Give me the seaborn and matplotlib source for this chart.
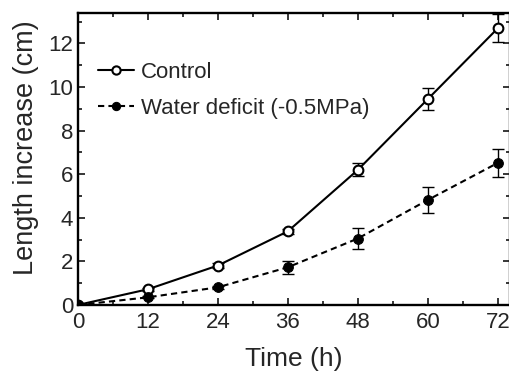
import matplotlib
matplotlib.use("Agg")
import matplotlib.pyplot as plt
from matplotlib.ticker import MultipleLocator
import seaborn as sns
import pandas as pd

time_h = [0, 12, 24, 36, 48, 60, 72]
control = [0.0, 0.72, 1.81, 3.38, 6.2, 9.45, 12.7]
control_err = [0.0, 0.08, 0.1, 0.12, 0.3, 0.5, 0.65]
deficit = [0.0, 0.35, 0.81, 1.73, 3.05, 4.82, 6.52]
deficit_err = [0.0, 0.05, 0.08, 0.3, 0.5, 0.6, 0.65]

sns.set_style("ticks")
plt.rcParams["font.family"] = ["Liberation Sans", "DejaVu Sans"]

df = pd.DataFrame({"time": time_h * 2,
                   "length": control + deficit,
                   "group": ["Control"] * 7 + ["Water deficit (-0.5MPa)"] * 7})

fig = plt.figure(figsize=(5.09, 3.71), dpi=100)
ax = fig.add_axes([0.153, 0.178, 0.848, 0.787])

sns.lineplot(data=df[df.group == "Control"], x="time", y="length", ax=ax,
             color="black", lw=1.5, marker="o", markersize=7,
             markerfacecolor="white", markeredgecolor="black", markeredgewidth=1.5,
             label="Control", zorder=3)
sns.lineplot(data=df[df.group != "Control"], x="time", y="length", ax=ax,
             color="black", lw=1.5, linestyle=(0, (3, 2)), marker="o", markersize=7,
             markerfacecolor="black", markeredgecolor="black",
             label="Water deficit (-0.5MPa)", zorder=3)
ax.errorbar(time_h, control, yerr=control_err, fmt="none", ecolor="black",
            elinewidth=1, capsize=4, capthick=1, zorder=2)
ax.errorbar(time_h, deficit, yerr=deficit_err, fmt="none", ecolor="black",
            elinewidth=1, capsize=4, capthick=1, zorder=2)

ax.set_xlim(0, 74)
ax.set_ylim(0, 13.4)
ax.xaxis.set_major_locator(MultipleLocator(12))
ax.xaxis.set_minor_locator(MultipleLocator(6))
ax.yaxis.set_major_locator(MultipleLocator(2))
ax.yaxis.set_minor_locator(MultipleLocator(1))
ax.tick_params(which="both", direction="in", top=True, right=True, width=1.3,
               labelsize=16)
ax.tick_params(which="major", length=5)
ax.tick_params(which="minor", length=3)
ax.tick_params(axis="x", pad=5)
for s in ax.spines.values():
    s.set_linewidth(1.7)
    s.set_color("black")

ax.set_xlabel("Time (h)", fontsize=19, labelpad=10)
ax.set_ylabel("Length increase (cm)", fontsize=19.5)
ax.yaxis.set_label_coords(-0.09, 0.54)

ax.legend(loc="upper left", bbox_to_anchor=(0.027, 0.864), frameon=False,
          fontsize=16, handlelength=1.6, handletextpad=0.3, labelspacing=0.7,
          borderaxespad=0, markerscale=0.85)

fig.savefig("out.png", dpi=100)
